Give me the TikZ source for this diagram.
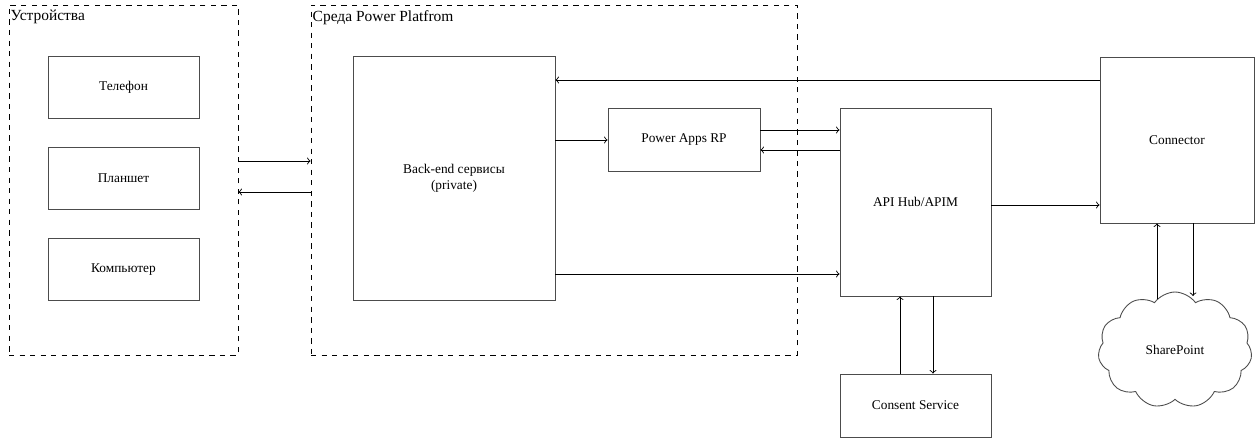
\documentclass[tikz,border=0pt]{standalone}
\usepackage{fontspec}
\setmainfont{Liberation Serif}
\usepackage{tikz}
\usetikzlibrary{shapes,arrows,positioning,calc}

\begin{document}
\begin{tikzpicture}[x=0.02cm,y=-0.02cm,
    font=\fontsize{7.6}{9.2}\selectfont,
    box/.style={rectangle,draw=black!70,line width=0.5pt,align=center,inner sep=0pt},
    group/.style={rectangle,draw,dashed,line width=0.5pt,inner sep=0pt},
    title/.style={anchor=north west,inner xsep=1pt,inner ysep=3pt,font=\fontsize{8.8}{10}\selectfont},
    link/.style={->,line width=0.5pt}]
    \useasboundingbox (0,0) rectangle (1257,439);

    \node[group,minimum width=4.58cm,minimum height=7cm] (dev) at (123.5,180) {};
    \node[group,minimum width=9.72cm,minimum height=7cm] (plat) at (554,180) {};
    \node[title] (devlabel) at (dev.north west) {Устройства};
    \node[title] (platlabel) at (plat.north west) {Среда Power Platfrom};

    \node[box,minimum width=3.02cm,minimum height=1.24cm] (phone) at (123.5,87) {Телефон};
    \node[box,minimum width=3.02cm,minimum height=1.24cm] (tablet) at (123.5,178) {Планшет};
    \node[box,minimum width=3.02cm,minimum height=1.24cm] (pc) at (123.5,269.5) {Компьютер};

    \node[box,minimum width=4.04cm,minimum height=4.88cm] (backend) at (454,178) {Back-end сервисы\\(private)};
    \node[box,minimum width=3.04cm,minimum height=1.26cm] (apps) at (684,139.5) {Power Apps RP};
    \node[box,minimum width=3.02cm,minimum height=3.76cm] (api) at (915.5,202) {API Hub/APIM};
    \node[box,minimum width=3.08cm,minimum height=3.32cm] (conn) at (1177,140) {Connector};
    \node[box,minimum width=3.02cm,minimum height=1.26cm] (consent) at (915.5,405.5) {Consent Service};
    \node[cloud,draw=black!70,line width=0.5pt,cloud puffs=11,cloud puff arc=110,aspect=1.4,
          minimum width=3.08cm,minimum height=2.32cm] (sp) at (1175,350) {SharePoint};

    \draw[link] (dev.east |- 0,161) -- (plat.west |- 0,161);
    \draw[link] (plat.west |- 0,192) -- (dev.east |- 0,192);
    \draw[link] (conn.west |- 0,80) -- (backend.east |- 0,80);
    \draw[link] (backend.east |- 0,140) -- (apps.west |- 0,140);
    \draw[link] (apps.east |- 0,130) -- (api.west |- 0,130);
    \draw[link] (api.west |- 0,150) -- (apps.east |- 0,150);
    \draw[link] (backend.east |- 0,274) -- (api.west |- 0,274);
    \draw[link] (api.east |- 0,205) -- (conn.west |- 0,205);
    \draw[link] (consent.north -| 900,0) -- (api.south -| 900,0);
    \draw[link] (api.south -| 933,0) -- (consent.north -| 933,0);
    \draw[link] (1157,299) -- (conn.south -| 1157,0);
    \draw[link] (conn.south -| 1193,0) -- (1193,296);
\end{tikzpicture}
\end{document}
